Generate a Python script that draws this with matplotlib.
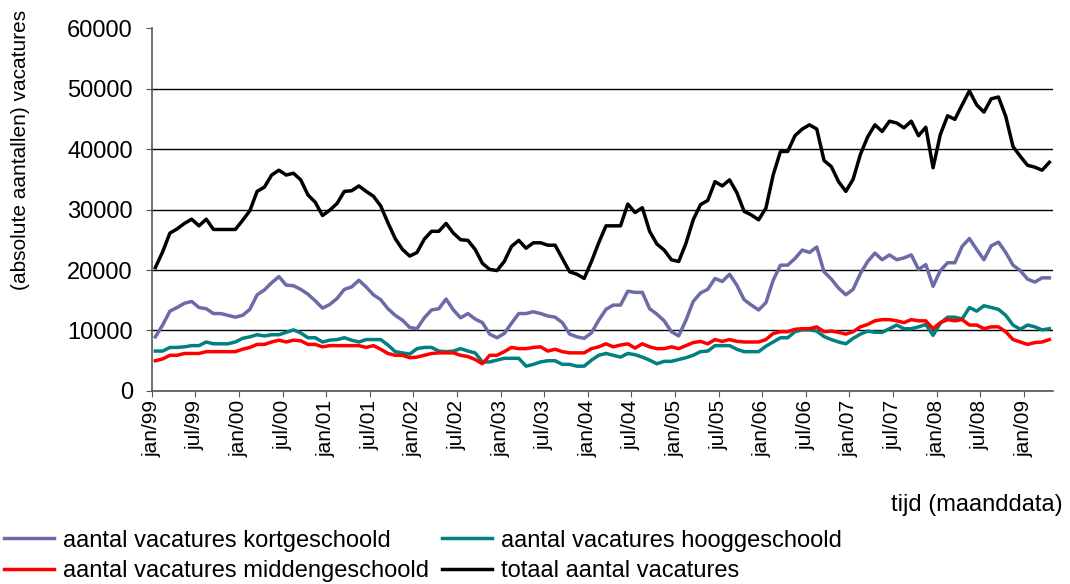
import matplotlib
matplotlib.use("Agg")
import matplotlib.pyplot as plt
import pandas as pd

plt.rcParams['font.family'] = ['Liberation Sans', 'DejaVu Sans']

# maanden jan/99 .. apr/09
maanden = pd.date_range('1999-01-01', '2009-04-01', freq='MS')
nl_mnd = {1: 'jan', 7: 'jul'}

kortgeschoold = [
    8950, 10900, 13200, 13800, 14500, 14800, 13800, 13600, 12800, 12800, 12500, 12200,
    12500, 13500, 15900, 16700, 17900, 18900, 17500, 17400, 16800, 16000, 14900, 13700,
    14300, 15300, 16800, 17200, 18300, 17200, 15900, 15100, 13600, 12500, 11700, 10500,
    10300, 12100, 13400, 13600, 15200, 13400, 12100, 12800, 11900, 11300, 9400, 8800,
    9500, 11200, 12800, 12800, 13100, 12800, 12400, 12200, 11300, 9400, 8950, 8700,
    9600, 11700, 13500, 14200, 14200, 16500, 16300, 16300, 13600, 12700, 11600, 9800,
    9100, 11700, 14800, 16200, 16800, 18600, 18100, 19300, 17500, 15100, 14200, 13400,
    14600, 18300, 20800, 20800, 21900, 23300, 22900, 23800, 19700, 18500, 17000, 15900,
    16800, 19400, 21400, 22800, 21700, 22500, 21700, 22000, 22500, 20100, 20900, 17300,
    19900, 21200, 21200, 23900, 25200, 23400, 21700, 24000, 24600, 22900, 20800, 19900,
    18500, 18000, 18700, 18700,
]
hooggeschoold = [
    6600, 6600, 7200, 7200, 7300, 7500, 7500, 8100, 7800, 7800, 7800, 8100,
    8700, 8950, 9300, 9100, 9300, 9300, 9700, 10100, 9600, 8800, 8800, 8100,
    8400, 8500, 8800, 8400, 8100, 8500, 8500, 8500, 7600, 6500, 6300, 6100,
    7000, 7200, 7200, 6600, 6500, 6600, 7000, 6600, 6300, 4800, 4800, 5100,
    5400, 5400, 5400, 4100, 4400, 4800, 5000, 5000, 4400, 4400, 4100, 4100,
    5100, 5900, 6200, 5900, 5600, 6200, 6000, 5600, 5100, 4500, 4900, 4900,
    5200, 5500, 5900, 6500, 6600, 7500, 7500, 7500, 6900, 6500, 6500, 6500,
    7400, 8100, 8800, 8800, 9800, 10100, 10100, 9900, 9000, 8500, 8100, 7800,
    8700, 9400, 9900, 9700, 9700, 10300, 10900, 10300, 10300, 10600, 11000, 9200,
    11200, 12200, 12200, 11900, 13800, 13200, 14100, 13800, 13500, 12500, 10900, 10200,
    10900, 10600, 10100, 10300,
]
middengeschoold = [
    5000, 5300, 5900, 5900, 6200, 6200, 6200, 6500, 6500, 6500, 6500, 6500,
    6900, 7200, 7700, 7700, 8100, 8400, 8100, 8400, 8300, 7700, 7700, 7300,
    7500, 7500, 7500, 7500, 7500, 7200, 7500, 6900, 6200, 5900, 5900, 5500,
    5600, 5900, 6200, 6300, 6300, 6300, 5900, 5700, 5200, 4500, 5900, 5900,
    6500, 7200, 7000, 7000, 7200, 7300, 6600, 6900, 6500, 6300, 6300, 6300,
    7000, 7300, 7800, 7300, 7600, 7800, 7100, 7800, 7300, 7000, 7000, 7300,
    7000, 7500, 8000, 8200, 7800, 8500, 8200, 8500, 8200, 8100, 8100, 8100,
    8500, 9500, 9800, 9800, 10200, 10300, 10300, 10600, 9800, 9900, 9700, 9400,
    9800, 10600, 11000, 11600, 11800, 11800, 11600, 11300, 11800, 11600, 11600, 10300,
    11300, 11800, 11600, 11800, 10900, 10900, 10300, 10600, 10600, 9800, 8500, 8100,
    7700, 8000, 8100, 8500,
]
totaal = [
    20400, 23000, 26100, 26800, 27700, 28400, 27300, 28400, 26700, 26700, 26700, 26700,
    28200, 29800, 33000, 33700, 35700, 36500, 35700, 36000, 34900, 32400, 31200, 29000,
    29900, 31000, 33000, 33100, 33900, 33000, 32200, 30600, 27800, 25200, 23400, 22300,
    22900, 25100, 26400, 26400, 27700, 26100, 25000, 24900, 23400, 21100, 20100, 19900,
    21400, 23900, 24900, 23600, 24500, 24500, 24100, 24100, 21900, 19700, 19300, 18600,
    21400, 24500, 27300, 27300, 27300, 30900, 29500, 30300, 26400, 24300, 23300, 21700,
    21400, 24400, 28300, 30800, 31500, 34600, 33900, 34900, 32800, 29700, 29100, 28300,
    30200, 35700, 39600, 39600, 42200, 43300, 44000, 43300, 38100, 37100, 34600, 33000,
    35000, 39100, 42000, 44000, 42900, 44600, 44300, 43500, 44600, 42200, 43600, 36900,
    42400, 45500, 44900, 47300, 49600, 47300, 46100, 48300, 48600, 45400, 40400, 38800,
    37300, 37000, 36500, 37800,
]

x = range(len(maanden))
tick_pos = [i - 0.5 for i in range(0, len(maanden), 6)]
tick_lab = [nl_mnd[m.month] + '/' + m.strftime('%y') for m in maanden[::6]]

fig = plt.figure(figsize=(10.7, 5.84), dpi=100)
ax = fig.add_axes([0.1418, 0.3305, 0.8423, 0.6215])

lw = 2.5
l1, = ax.plot(x, kortgeschoold, color='#6B6BA8', lw=lw, label='aantal vacatures kortgeschoold')
l2, = ax.plot(x, hooggeschoold, color='#008080', lw=lw, label='aantal vacatures hooggeschoold')
l3, = ax.plot(x, middengeschoold, color='#FF0000', lw=lw, label='aantal vacatures middengeschoold')
l4, = ax.plot(x, totaal, color='black', lw=lw, label='totaal aantal vacatures')

ax.set_xlim(-0.5, len(maanden) - 0.5)
ax.set_ylim(0, 60000)
ax.set_yticks(range(0, 60001, 10000))
ax.yaxis.grid(True, color='black', lw=1)
ax.yaxis.get_gridlines()[-1].set_visible(False)   # geen lijn bij 60000
ax.set_axisbelow(True)
ax.set_xticks(tick_pos)
ax.set_xticklabels(tick_lab, rotation=90)
ax.tick_params(color='#555555', length=4.5)
ax.tick_params(axis='y', labelsize=17, pad=9)
ax.tick_params(axis='x', labelsize=15, pad=2)
for s in ['top', 'right']:
    ax.spines[s].set_visible(False)
for s in ['left', 'bottom']:
    ax.spines[s].set_color('#555555')
    ax.spines[s].set_linewidth(1.2)

ax.set_ylabel('(absolute aantallen) vacatures', fontsize=15)
ax.yaxis.set_label_coords(-0.135, 0.664)
fig.text(0.993, 0.135, 'tijd (maanddata)', fontsize=17, ha='right', va='center')

fig.legend([l1, l3, l2, l4], [l1.get_label(), l3.get_label(), l2.get_label(), l4.get_label()],
           loc='upper left', bbox_to_anchor=(0.004, 0.093), ncol=2, frameon=False,
           fontsize=17, handlelength=2.1, handletextpad=0.4, columnspacing=0.55,
           labelspacing=0.36, borderpad=0, borderaxespad=0)

fig.savefig('out.png', dpi=100)
